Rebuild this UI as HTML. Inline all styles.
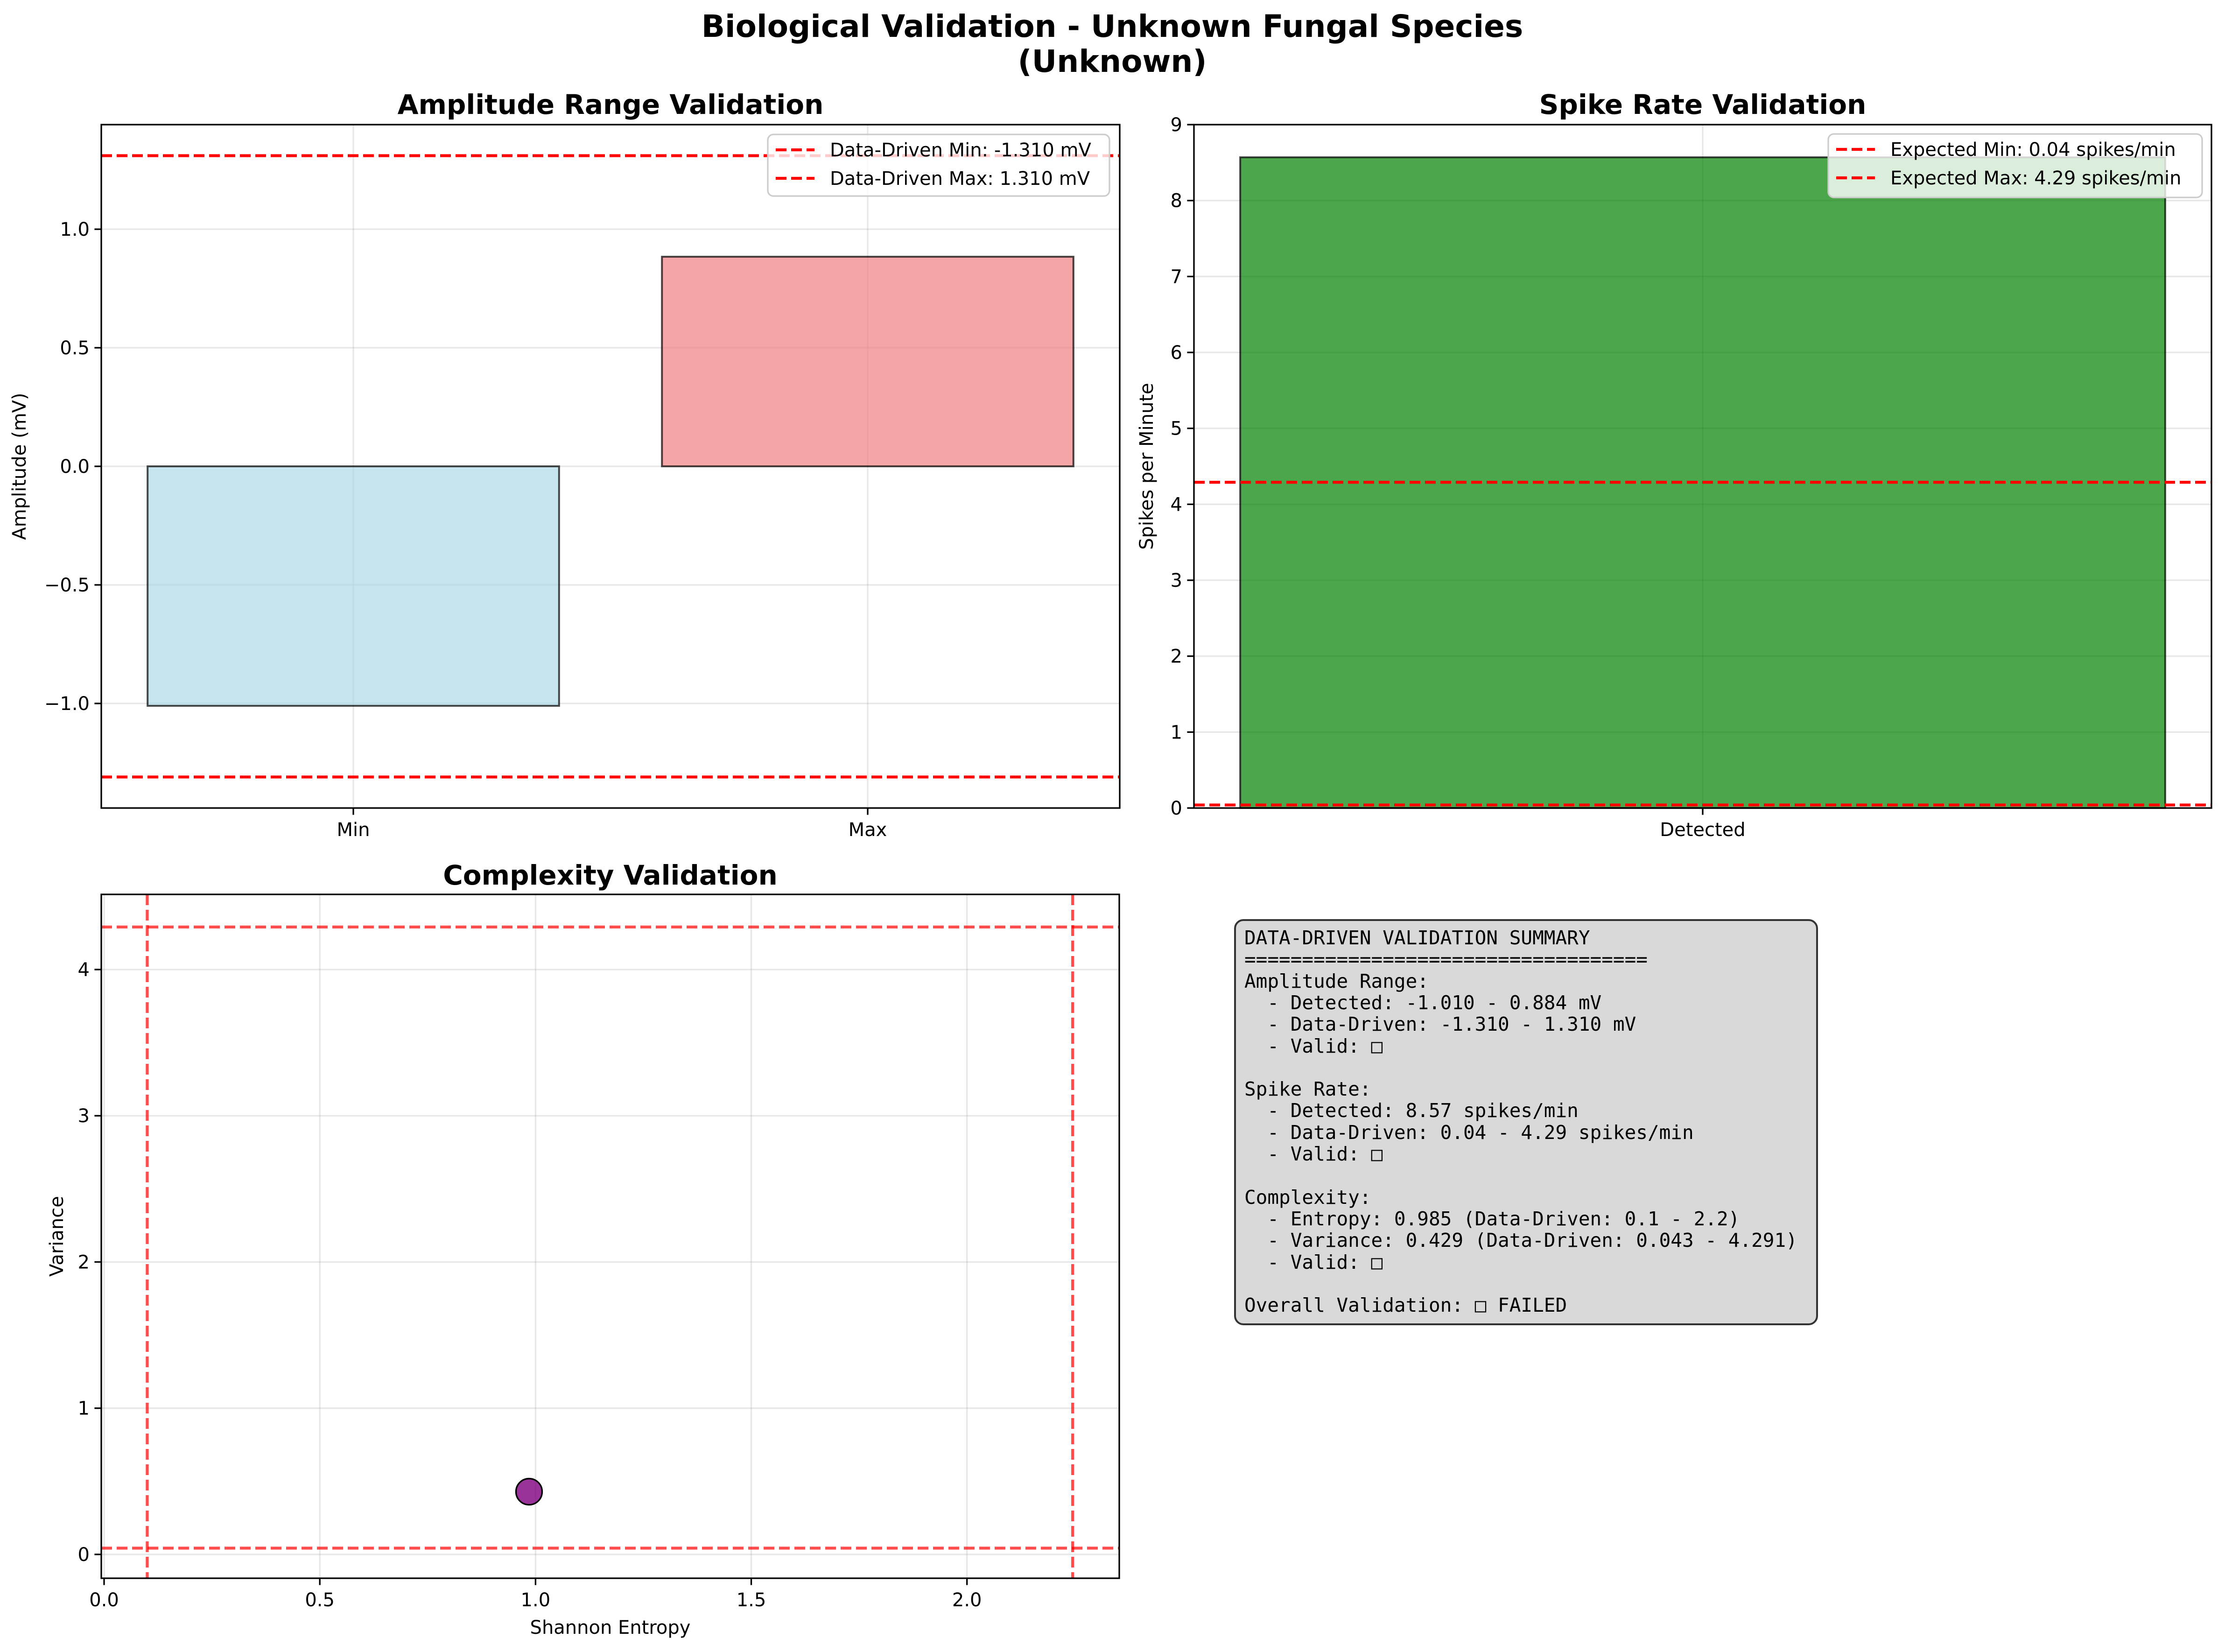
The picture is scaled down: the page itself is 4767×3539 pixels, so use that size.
<!DOCTYPE html>
<html><head><meta charset="utf-8"><style>
html,body{margin:0;padding:0;background:#fff}
svg{display:block;font-family:"DejaVu Sans","Liberation Sans",sans-serif}
</style></head><body>
<svg id="fig" xmlns="http://www.w3.org/2000/svg" width="4767" height="3539" viewBox="0 0 4767 3539">
<rect width="4767" height="3539" fill="#fff"/>
<text x="2383" y="79" text-anchor="middle" font-size="66" font-weight="bold">Biological Validation - Unknown Fungal Species</text>
<text x="2383" y="154" text-anchor="middle" font-size="66" font-weight="bold">(Unknown)</text>
<g id="p1"></g>
<g id="p2"></g>
<g id="p3"></g>
<g>
<rect x="2646" y="1971" width="1247" height="866" rx="18" fill="#d9d9d9" stroke="#333" stroke-width="4"/>
<text font-family="'DejaVu Sans Mono','Liberation Mono',monospace" font-size="41" xml:space="preserve">
<tspan x="2666" y="2023">DATA-DRIVEN VALIDATION SUMMARY</tspan>
<tspan x="2666" y="2069">===================================</tspan>
<tspan x="2666" y="2116">Amplitude Range:</tspan>
<tspan x="2666" y="2162">  - Detected: -1.010 - 0.884 mV</tspan>
<tspan x="2666" y="2208">  - Data-Driven: -1.310 - 1.310 mV</tspan>
<tspan x="2666" y="2255">  - Valid: □</tspan>
<tspan x="2666" y="2347">Spike Rate:</tspan>
<tspan x="2666" y="2393">  - Detected: 8.57 spikes/min</tspan>
<tspan x="2666" y="2440">  - Data-Driven: 0.04 - 4.29 spikes/min</tspan>
<tspan x="2666" y="2486">  - Valid: □</tspan>
<tspan x="2666" y="2579">Complexity:</tspan>
<tspan x="2666" y="2625">  - Entropy: 0.985 (Data-Driven: 0.1 - 2.2)</tspan>
<tspan x="2666" y="2671">  - Variance: 0.429 (Data-Driven: 0.043 - 4.291)</tspan>
<tspan x="2666" y="2718">  - Valid: □</tspan>
<tspan x="2666" y="2810">Overall Validation: □ FAILED</tspan>
</text></g>
</svg>
<script>
// Panel 1 data
const ampCategories = ["Min", "Max"];
const ampValues = [-1.010, 0.884];
const ampTicks = [-1.0, -0.5, 0.0, 0.5, 1.0];
const ampTickLabels = ["\u22121.0", "\u22120.5", "0.0", "0.5", "1.0"];
const ampThresholds = [-1.310, 1.310];
// Panel 2 data
const rateCategories = ["Detected"];
const rateValues = [8.57];
const rateTicks = [0,1,2,3,4,5,6,7,8,9];
const rateThresholds = [0.04, 4.29];
// Panel 3 data
const entropyValues = [0.985];
const varianceValues = [0.429];
const entropyTicks = [0.0, 0.5, 1.0, 1.5, 2.0];
const entropyTickLabels = ["0.0","0.5","1.0","1.5","2.0"];
const varianceTicks = [0,1,2,3,4];
const entropyBounds = [0.1, 2.245];
const varianceBounds = [0.043, 4.291];

const NS = "http://www.w3.org/2000/svg";
function mk(parent, tag, attrs, text){
  const e = document.createElementNS(NS, tag);
  for (const k in attrs) e.setAttribute(k, attrs[k]);
  if (text !== undefined) e.textContent = text;
  parent.appendChild(e);
  return e;
}
function lin(d0,d1,r0,r1){return v=>r0+(v-d0)/(d1-d0)*(r1-r0);}
const FS = 40;

function frame(g, L, T, R, B){
  const r = mk(g,'rect',{x:L,y:T,width:R-L,height:B-T,fill:'none',stroke:'#000','stroke-width':3.3});
  
  
}
function gridY(g, y, L, R){
  const l = mk(g,'line',{x1:L,x2:R,y1:y,y2:y,stroke:'#b0b0b0','stroke-opacity':0.3,'stroke-width':3.3});
  
  
}
function gridX(g, x, T, B){
  const l = mk(g,'line',{x1:x,x2:x,y1:T,y2:B,stroke:'#b0b0b0','stroke-opacity':0.3,'stroke-width':3.3});
  
  
}
function yTick(g, y, L, label){
  mk(g,'line',{x1:L-14.6,x2:L,y1:y,y2:y,stroke:'#000','stroke-width':3.3});
  const t = mk(g,'text',{x:L-25,y:y+14,'text-anchor':'end','font-size':FS},label);
  
  
}
function xTick(g, x, B, label){
  mk(g,'line',{x1:x,x2:x,y1:B,y2:B+14.6,stroke:'#000','stroke-width':3.3});
  const t = mk(g,'text',{x:x,y:B+60,'text-anchor':'middle','font-size':FS},label);
  
  
}
function hline(g, y, L, R, op){
  const l = mk(g,'line',{x1:L,x2:R,y1:y,y2:y,stroke:'#ff0000','stroke-opacity':op,'stroke-width':6.25,'stroke-dasharray':'23 10'});
  
  
}
function vline(g, x, T, B, op){
  const l = mk(g,'line',{x1:x,x2:x,y1:T,y2:B,stroke:'#ff0000','stroke-opacity':op,'stroke-width':6.25,'stroke-dasharray':'23 10'});
  
  
}
function title(g, x, y, s){
  const t = mk(g,'text',{x:x,y:y,'text-anchor':'middle','font-size':58,'font-weight':'bold'},s);
  
  
}
function ylabel(g, x, y, s){
  const t = mk(g,'text',{x:x,y:y,'text-anchor':'middle','font-size':FS,transform:`rotate(-90 ${x} ${y})`},s);
  
  
}
function legend(g, x, y, w, h, labels){
  const b = mk(g,'rect',{x:x,y:y,width:w,height:h,rx:12,fill:'#fff','fill-opacity':0.8,stroke:'#ccc','stroke-width':3.3});
  
  
  labels.forEach((s,i)=>{
    const cy = y + 33 + i*61;
    mk(g,'line',{x1:x+17,x2:x+100,y1:cy,y2:cy,stroke:'#ff0000','stroke-width':6.25,'stroke-dasharray':'23 10'});
    const t = mk(g,'text',{x:x+133,y:cy+14,'font-size':FS},s);
    
    
  });
}

// ---------- Panel 1 ----------
(function(){
  const g = document.getElementById('p1');
  const L=217,R=2399,T=267,B=1731;
  const x = lin(-0.49,1.49,L,R), y = lin(-1.441,1.441,B,T);
  ampTicks.forEach(v=>gridY(g,y(v),L,R));
  ampCategories.forEach((c,i)=>gridX(g,x(i),T,B));
  ampValues.forEach((v,i)=>{
    const y0=y(0), y1=y(v);
    const r = mk(g,'rect',{x:x(i-0.4),y:Math.min(y0,y1),width:x(i+0.4)-x(i-0.4),height:Math.abs(y1-y0),
      fill:i===0?'#add8e6':'#f08080','fill-opacity':0.7,stroke:'#000','stroke-opacity':0.7,'stroke-width':4});
    
    
  });
  ampThresholds.forEach(v=>hline(g,y(v),L,R,1));
  frame(g,L,T,R,B);
  ampTicks.forEach((v,i)=>yTick(g,y(v),L,ampTickLabels[i]));
  ampCategories.forEach((c,i)=>xTick(g,x(i),B,c));
  title(g,(L+R)/2,244,'Amplitude Range Validation');
  ylabel(g,55,(T+B)/2,'Amplitude (mV)');
  legend(g,1645,288,732,132,['Data-Driven Min: -1.310 mV','Data-Driven Max: 1.310 mV']);
})();

// ---------- Panel 2 ----------
(function(){
  const g = document.getElementById('p2');
  const L=2558,R=4738,T=267,B=1731;
  const x = lin(-0.44,0.44,L,R), y = lin(0,9,B,T);
  rateTicks.forEach(v=>gridY(g,y(v),L,R));
  rateCategories.forEach((c,i)=>gridX(g,x(i),T,B));
  rateValues.forEach((v,i)=>{
    const r = mk(g,'rect',{x:x(i-0.4),y:y(v),width:x(i+0.4)-x(i-0.4),height:y(0)-y(v),
      fill:'#008000','fill-opacity':0.7,stroke:'#000','stroke-opacity':0.7,'stroke-width':4});
    
    
  });
  rateThresholds.forEach(v=>hline(g,y(v),L,R,1));
  frame(g,L,T,R,B);
  rateTicks.forEach(v=>yTick(g,y(v),L,String(v)));
  rateCategories.forEach((c,i)=>xTick(g,x(i),B,c));
  title(g,(L+R)/2,244,'Spike Rate Validation');
  ylabel(g,2470,(T+B)/2,'Spikes per Minute');
  legend(g,3917,287,801,136,['Expected Min: 0.04 spikes/min','Expected Max: 4.29 spikes/min']);
})();

// ---------- Panel 3 ----------
(function(){
  const g = document.getElementById('p3');
  const L=217,R=2398,T=1916,B=3381;
  const x = lin(-0.0065,2.353,L,R), y = lin(-0.163,4.514,B,T);
  varianceTicks.forEach(v=>gridY(g,y(v),L,R));
  entropyTicks.forEach(v=>gridX(g,x(v),T,B));
  entropyBounds.forEach(v=>vline(g,x(v),T,B,0.7));
  varianceBounds.forEach(v=>hline(g,y(v),L,R,0.7));
  entropyValues.forEach((e,i)=>{
    const c = mk(g,'circle',{cx:x(e),cy:y(varianceValues[i]),r:28,fill:'#800080','fill-opacity':0.8,stroke:'#000','stroke-width':3.3});
    
    
  });
  frame(g,L,T,R,B);
  varianceTicks.forEach(v=>yTick(g,y(v),L,String(v)));
  entropyTicks.forEach((v,i)=>xTick(g,x(v),B,entropyTickLabels[i]));
  title(g,(L+R)/2,1895,'Complexity Validation');
  ylabel(g,135,(T+B)/2,'Variance');
  const xl = mk(g,'text',{x:(L+R)/2,y:3500,'text-anchor':'middle','font-size':FS},'Shannon Entropy');
  
  
})();
</script>
</body></html>
